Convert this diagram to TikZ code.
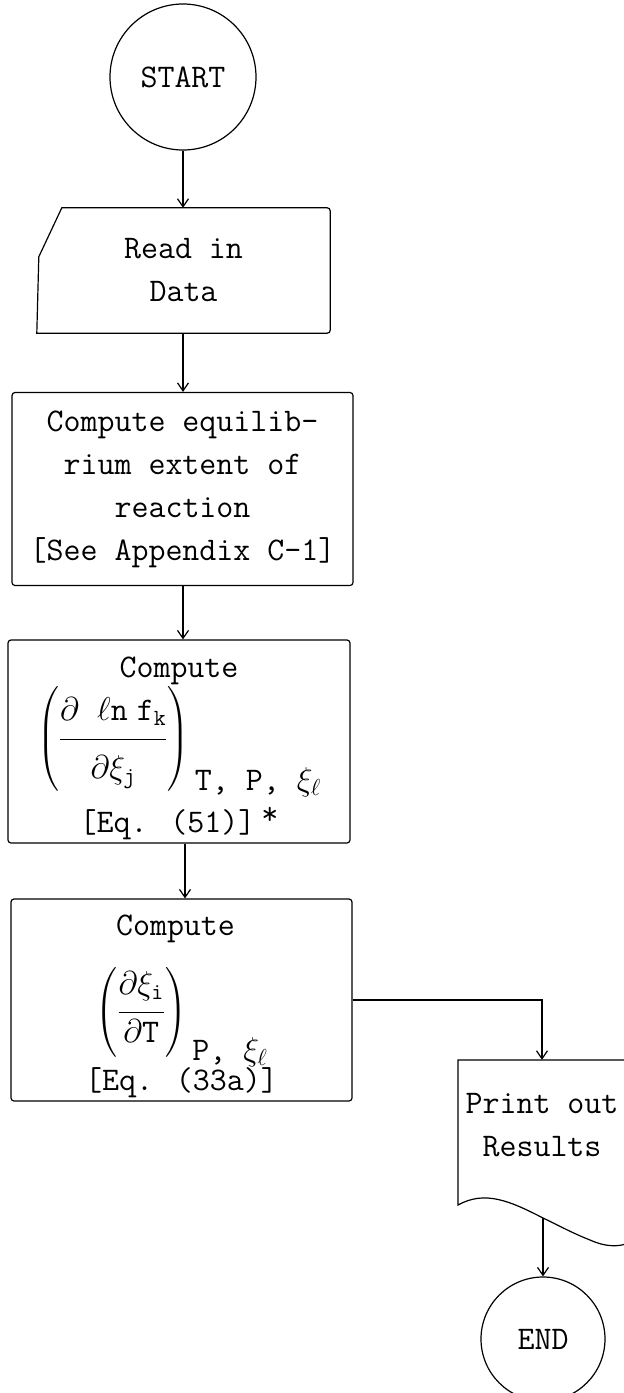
\RequirePackage{fix-cm}
\documentclass[tikz,border=0pt]{standalone}
\usepackage{amsmath}
\usepackage{fontspec}
\usepackage{tikz}
\usetikzlibrary{arrows.meta, positioning, calc}
\newcommand{\flowfont}{\fontsize{33}{43}\selectfont\ttfamily}
\newcommand{\tallparen}[1]{\vcenter{\hbox{\rule{0pt}{#1}}}}
\tikzset{
    % Node styles
    terminal/.style={
        circle,
        draw,
        line width=1.2pt,
        minimum size=146pt,
        inner sep=0pt,
        font=\flowfont
    },
    cardbox/.style={
        rectangle,
        draw=none,
        minimum width=293pt,
        minimum height=125pt,
        align=center,
        font=\flowfont
    },
    processbox/.style={
        rectangle,
        draw,
        rounded corners=3pt,
        line width=1.2pt,
        minimum width=341pt,
        minimum height=193pt,
        align=center,
        font=\flowfont
    },
    printbox/.style={
        rectangle,
        draw=none,
        minimum width=168pt,
        minimum height=130pt,
        align=center,
        font=\flowfont
    },
    outline/.style={
        line width=1.2pt
    },
    % Arrow styles
    myarrow/.style={
        -{Straight Barb[length=8pt,width=11pt]},
        line width=1.2pt
    }
}

\begin{document}
\begin{tikzpicture}[x=1pt, y=-1pt]
    \useasboundingbox (0,0) rectangle (624,1393);

    % Start and input
    \node[terminal] (start) at (183,77) {START};
    \node[cardbox] (readin) at (183.5,270.5) {Read in\\Data};
    \draw[outline] ([xshift=25pt]readin.north west) [rounded corners=3pt] -- (readin.north east)
        -- (readin.south east) [sharp corners] -- (readin.south west)
        -- ([xshift=2pt,yshift=-49pt]readin.north west) -- cycle;

    % Computation steps
    \node[processbox] (equil) at (182.5,489) {Compute equilib-\\rium extent of\\reaction\\{[}See Appendix C-1{]}};
    \node[processbox, minimum width=342pt] (dlnf) at (179,741.5) {\rule{0pt}{34pt}Compute\\[27pt]
        \smash{$\displaystyle\left(\tallparen{82pt}\frac{\partial\;\;\ell\mathtt{n}\;\mathtt{f}_{\mathtt{k}}\rule[-15pt]{0pt}{15pt}}{\rule{0pt}{36pt}\partial\xi_{\mathtt{j}}}\right)$\raisebox{-43pt}{\,T, P, $\xi_{\ell}$}}\hspace*{28pt}\\[42pt]
        {[}Eq. (51){]}\hspace{6pt}\raisebox{8pt}{*}};
    \node[processbox, minimum height=194pt] (dxi) at (181.5,1000) {\rule{0pt}{33pt}Compute\hspace*{12pt}\\[42pt]
        \smash{$\displaystyle\left(\tallparen{84pt}\frac{\partial\xi_{\mathtt{i}}\rule[-14pt]{0pt}{14pt}}{\partial\mathtt{T}}\right)$\raisebox{-40pt}{\,P, $\xi_{\ell}$}}\hspace*{12pt}\\[27pt]
        {[}Eq. (33a){]}};

    % Output and end
    \node[printbox] (print) at (542,1125) {Print out\\Results};
    \draw[outline] (458,1205) -- (458,1060) -- (640,1060) -- (640,1235)
        .. controls (630,1246) and (612,1250) .. (590,1240)
        .. controls (570,1232) and (560,1226) .. (543,1218)
        .. controls (510,1201) and (485,1190) .. (458,1205) -- cycle;
    \coordinate (wave) at (543,1218);
    \node[terminal, minimum size=124pt] (stop) at (543,1339) {END};

    % Connectors
    \draw[myarrow] (start.south) -- (start.south |- readin.north);
    \draw[myarrow] (readin.south) -- (readin.south -| start) -- (start |- equil.north);
    \draw[myarrow] (start |- equil.south) -- (start |- dlnf.north);
    \draw[myarrow] ($(dlnf.south)+(6,0)$) coordinate (d3) -- (d3 |- dxi.north);
    \draw[myarrow] (dxi.east) -| (print.north);
    \draw[myarrow] (wave) -- (stop.north);
\end{tikzpicture}
\end{document}
